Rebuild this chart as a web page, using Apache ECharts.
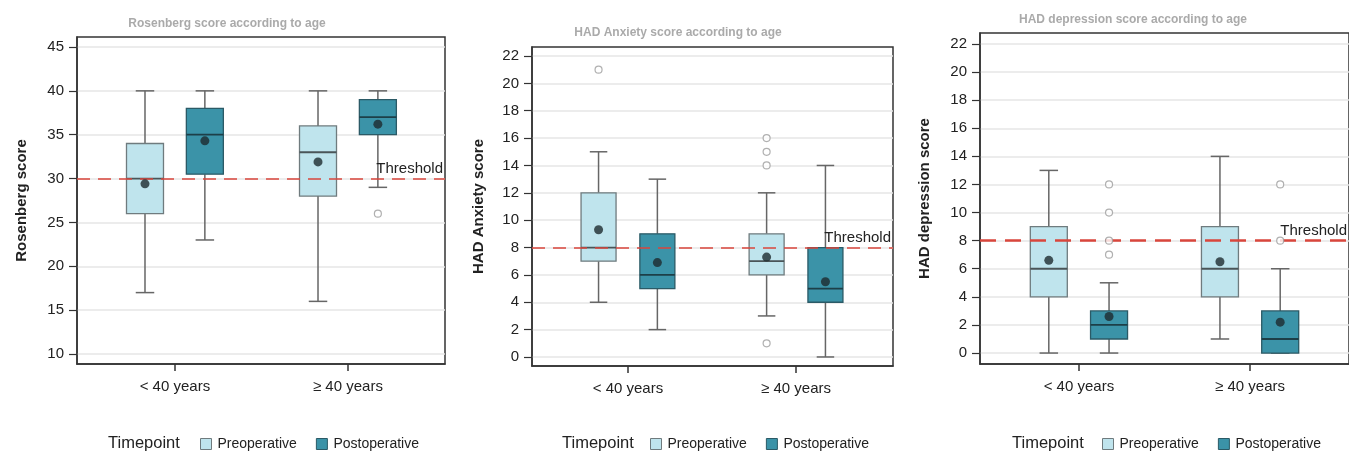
<!DOCTYPE html>
<html>
<head>
<meta charset="utf-8">
<script src="https://cdn.jsdelivr.net/npm/echarts@6/dist/echarts.min.js"></script>
<style>
  html, body { margin: 0; padding: 0; background: #fff; }
  #chart { width: 1349px; height: 451px; }
</style>
</head>
<body>
<div id="chart"></div>
<script>
const categories = ['< 40 years', '≥ 40 years']
const timepoints = ['Preoperative', 'Postoperative']

// boxes are [whisker low, Q1, median, Q3, whisker high], one per age group
const rosenbergPre = [[17, 26, 30, 34, 40], [16, 28, 33, 36, 40]]
const rosenbergPost = [[23, 30.5, 35, 38, 40], [29, 35, 37, 39, 40]]
const rosenbergPreMean = [29.4, 31.9]
const rosenbergPostMean = [34.3, 36.2]
const rosenbergPreOut = [[], []]
const rosenbergPostOut = [[], [26]]
const rosenbergTicks = [10, 15, 20, 25, 30, 35, 40, 45]
const rosenbergThreshold = 30

const anxietyPre = [[4, 7, 8, 12, 15], [3, 6, 7, 9, 12]]
const anxietyPost = [[2, 5, 6, 9, 13], [0, 4, 5, 8, 14]]
const anxietyPreMean = [9.3, 7.3]
const anxietyPostMean = [6.9, 5.5]
const anxietyPreOut = [[21], [14, 15, 16, 1]]
const anxietyPostOut = [[], []]
const anxietyTicks = [0, 2, 4, 6, 8, 10, 12, 14, 16, 18, 20, 22]
const anxietyThreshold = 8

const depressionPre = [[0, 4, 6, 9, 13], [1, 4, 6, 9, 14]]
const depressionPost = [[0, 1, 2, 3, 5], [0, 0, 1, 3, 6]]
const depressionPreMean = [6.6, 6.5]
const depressionPostMean = [2.6, 2.2]
const depressionPreOut = [[], []]
const depressionPostOut = [[7, 8, 10, 12], [8, 12]]
const depressionTicks = [0, 2, 4, 6, 8, 10, 12, 14, 16, 18, 20, 22]
const depressionThreshold = 8

const panels = [
  {
    title: 'Rosenberg score according to age', yName: 'Rosenberg score',
    pre: rosenbergPre, post: rosenbergPost, preMean: rosenbergPreMean, postMean: rosenbergPostMean,
    preOut: rosenbergPreOut, postOut: rosenbergPostOut, ticks: rosenbergTicks, threshold: rosenbergThreshold,
    grid: { left: 77, right: 904, top: 37, bottom: 87 },
    xRange: [-0.566, 1.561], yRange: [8.86, 46.14], nameGap: 48,
    offset: 0.173, boxW: 37, dash: [13, 8], dashW: 1.5,
    titleX: 227, titleY: 24, legendX: 200, timeX: 108
  },
  {
    title: 'HAD Anxiety score according to age', yName: 'HAD Anxiety score',
    pre: anxietyPre, post: anxietyPost, preMean: anxietyPreMean, postMean: anxietyPostMean,
    preOut: anxietyPreOut, postOut: anxietyPostOut, ticks: anxietyTicks, threshold: anxietyThreshold,
    grid: { left: 532, right: 456, top: 47, bottom: 85 },
    xRange: [-0.571, 1.577], yRange: [-0.66, 22.66], nameGap: 46,
    offset: 0.175, boxW: 35, dash: [13, 8], dashW: 1.5,
    titleX: 678, titleY: 33, legendX: 650, timeX: 562
  },
  {
    title: 'HAD depression score according to age', yName: 'HAD depression score',
    pre: depressionPre, post: depressionPost, preMean: depressionPreMean, postMean: depressionPostMean,
    preOut: depressionPreOut, postOut: depressionPostOut, ticks: depressionTicks, threshold: depressionThreshold,
    grid: { left: 980, right: -4, top: 33, bottom: 87 },
    xRange: [-0.578, 1.578], yRange: [-0.78, 22.78], nameGap: 48,
    offset: 0.176, boxW: 37, dash: [16, 9], dashW: 2.5,
    titleX: 1133, titleY: 20, legendX: 1102, timeX: 1012
  }
]

const FONT = 'Liberation Sans'
const styles = {
  Preoperative: { fill: '#bfe4ed', stroke: '#6f7b7e', median: '#4a5558' },
  Postoperative: { fill: '#3b93a8', stroke: '#2b5a66', median: '#1d3f48' }
}

function boxSeries (p, gi, name, data, dir) {
  const st = styles[name]
  return {
    type: 'custom',
    name: name,
    xAxisIndex: gi,
    yAxisIndex: gi,
    z: 3,
    itemStyle: { color: st.fill, borderColor: st.stroke },
    data: data.map((d, i) => [i + dir * p.offset].concat(d)),
    encode: { x: 0, y: [1, 2, 3, 4, 5] },
    renderItem: (params, api) => {
      const x = api.value(0)
      const lo = api.coord([x, api.value(1)])
      const q1 = api.coord([x, api.value(2)])
      const md = api.coord([x, api.value(3)])
      const q3 = api.coord([x, api.value(4)])
      const hi = api.coord([x, api.value(5)])
      const cx = lo[0]
      const hw = p.boxW / 2
      const cap = p.boxW / 4
      const wStyle = { stroke: '#666', lineWidth: 1.5 }
      return {
        type: 'group',
        children: [
          { type: 'line', shape: { x1: cx, y1: hi[1], x2: cx, y2: q3[1] }, style: wStyle },
          { type: 'line', shape: { x1: cx, y1: q1[1], x2: cx, y2: lo[1] }, style: wStyle },
          { type: 'line', shape: { x1: cx - cap, y1: hi[1], x2: cx + cap, y2: hi[1] }, style: wStyle },
          { type: 'line', shape: { x1: cx - cap, y1: lo[1], x2: cx + cap, y2: lo[1] }, style: wStyle },
          { type: 'rect', shape: { x: cx - hw, y: q3[1], width: p.boxW, height: q1[1] - q3[1] },
            style: { fill: st.fill, stroke: st.stroke, lineWidth: 1.3 } },
          { type: 'line', shape: { x1: cx - hw, y1: md[1], x2: cx + hw, y2: md[1] },
            style: { stroke: st.median, lineWidth: 1.8 } }
        ]
      }
    }
  }
}

function meanSeries (p, gi, name, means, dir) {
  return {
    type: 'scatter', name: name, xAxisIndex: gi, yAxisIndex: gi, z: 5,
    symbol: 'circle', symbolSize: 9, silent: true,
    itemStyle: { color: '#1e2a2e' },
    data: means.map((m, i) => [i + dir * p.offset, m])
  }
}

function outlierSeries (p, gi, name, outs, dir) {
  const pts = []
  outs.forEach((list, i) => list.forEach(v => pts.push([i + dir * p.offset, v])))
  return {
    type: 'scatter', name: name, xAxisIndex: gi, yAxisIndex: gi, z: 6,
    symbol: 'circle', symbolSize: 7, silent: true,
    itemStyle: { color: '#fff', borderColor: '#9c9c9c', borderWidth: 1.2 },
    data: pts
  }
}

const grid = [], xAxis = [], yAxis = [], series = [], legend = [], graphic = []

panels.forEach((p, gi) => {
  grid.push(Object.assign({ show: true, borderColor: '#333', borderWidth: 1.5 }, p.grid))
  xAxis.push({
    type: 'value', gridIndex: gi, min: p.xRange[0], max: p.xRange[1],
    axisLine: { show: true, onZero: false, lineStyle: { color: '#333', width: 1.5 } },
    axisTick: { show: true, length: 7, lineStyle: { color: '#333', width: 1.5 }, customValues: [0, 1] },
    axisLabel: { customValues: [0, 1], formatter: v => categories[Math.round(v)], color: '#222',
      fontSize: 15, fontFamily: FONT, margin: 15 },
    splitLine: { show: false }
  })
  yAxis.push({
    type: 'value', gridIndex: gi, min: p.yRange[0], max: p.yRange[1],
    name: p.yName, nameLocation: 'middle', nameGap: p.nameGap, nameRotate: 90,
    nameTextStyle: { fontSize: 15, fontWeight: 'bold', color: '#222', fontFamily: FONT },
    axisLine: { show: true, onZero: false, lineStyle: { color: '#333', width: 1.5 } },
    axisTick: { show: true, length: 8, lineStyle: { color: '#333', width: 1.2 }, customValues: p.ticks },
    axisLabel: { customValues: p.ticks, color: '#222', fontSize: 15, fontFamily: FONT, margin: 13 },
    splitLine: { show: true, lineStyle: { color: '#e6e6e6', width: 1.5 } }
  })
  // threshold line, kept below the boxes
  series.push({
    type: 'line', name: 'threshold', xAxisIndex: gi, yAxisIndex: gi, z: 1, data: [],
    markLine: {
      silent: true, symbol: 'none', animation: false,
      lineStyle: { color: '#d9463c', type: p.dash, width: p.dashW },
      label: { show: true, position: 'insideEndTop', formatter: 'Threshold', color: '#222',
        fontSize: 15, fontFamily: FONT, distance: [2, 2] },
      data: [{ yAxis: p.threshold }]
    }
  })
  series.push(boxSeries(p, gi, timepoints[0], p.pre, -1))
  series.push(boxSeries(p, gi, timepoints[1], p.post, 1))
  series.push(meanSeries(p, gi, 'mean', p.preMean, -1))
  series.push(meanSeries(p, gi, 'mean', p.postMean, 1))
  series.push(outlierSeries(p, gi, 'outlier', p.preOut, -1))
  series.push(outlierSeries(p, gi, 'outlier', p.postOut, 1))

  legend.push({
    left: p.legendX, top: 437, padding: 0, itemWidth: 11, itemHeight: 11, itemGap: 19, icon: 'rect',
    selectedMode: false,
    textStyle: { fontSize: 14, color: '#222', fontFamily: FONT, padding: [0, 0, 0, 1] },
    data: timepoints.map(t => ({
      name: t, itemStyle: { color: styles[t].fill, borderColor: styles[t].stroke, borderWidth: 1 }
    }))
  })
  graphic.push({
    type: 'text', left: p.timeX, top: 435,
    style: { text: 'Timepoint', fill: '#222', font: '16.5px "' + FONT + '"' }
  })
  graphic.push({
    type: 'text', x: p.titleX, y: p.titleY,
    style: { text: p.title, fill: '#aaa', font: 'bold 12px "' + FONT + '"', align: 'center', verticalAlign: 'middle' }
  })
})

const chart = echarts.init(document.getElementById('chart'))
chart.setOption({
  animation: false,
  grid: grid,
  xAxis: xAxis,
  yAxis: yAxis,
  legend: legend,
  graphic: graphic,
  series: series
})
window.addEventListener('resize', () => {
  chart.resize()
})
</script>
</body>
</html>
